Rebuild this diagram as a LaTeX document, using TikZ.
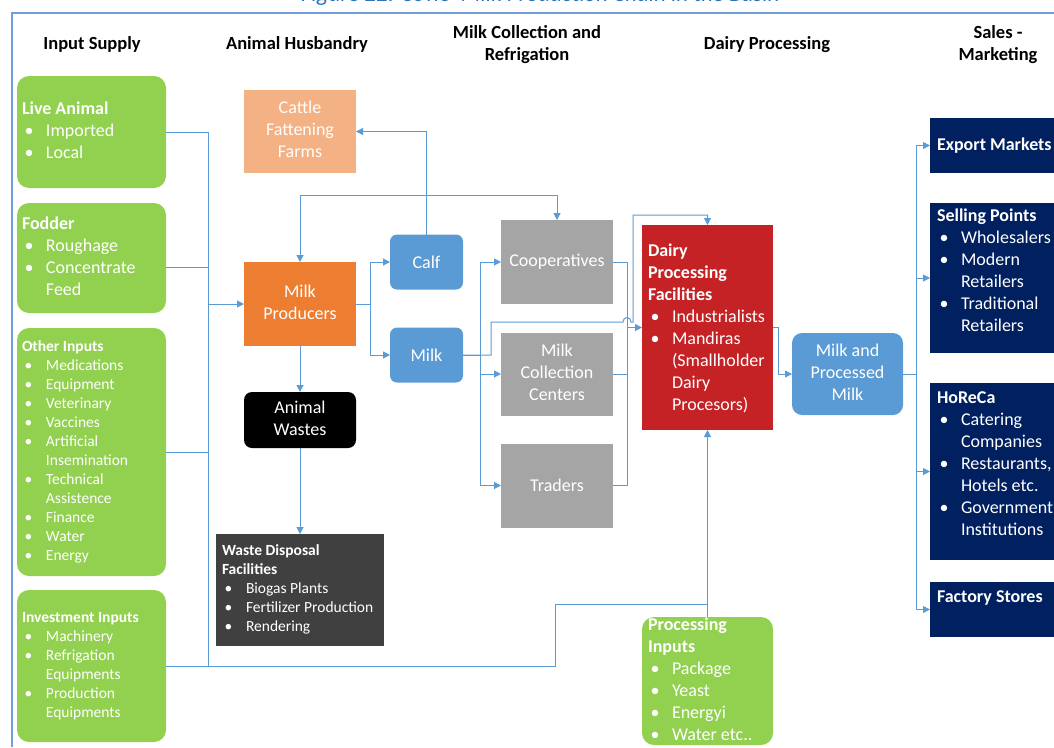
\documentclass[tikz,border=0pt]{standalone}
\usepackage{fontspec}
\setmainfont{Carlito}
\usepackage{array}
\usetikzlibrary{arrows.meta}

\definecolor{cgreen}{RGB}{146,208,80}
\definecolor{cpeach}{RGB}{244,177,131}
\definecolor{corange}{RGB}{237,125,49}
\definecolor{cblue}{RGB}{91,155,213}
\definecolor{cgray}{RGB}{165,165,165}
\definecolor{cred}{RGB}{197,34,38}
\definecolor{cnavy}{RGB}{0,32,96}
\definecolor{cdark}{RGB}{64,64,64}
\definecolor{cline}{RGB}{91,155,213}
\definecolor{cframe}{RGB}{110,160,215}
\definecolor{ccap}{RGB}{46,116,181}

\newcommand{\fbody}{\fontsize{18}{22}\selectfont}
\newcommand{\fsmall}{\fontsize{15.5}{19}\selectfont}
\newcommand{\fhead}{\fontsize{18.5}{22.5}\selectfont\bfseries}
% bullet list: bullet column + text column
\newcolumntype{L}{@{\hspace{2.5pt}}p{21.5pt}@{}l@{}}
\newcommand{\boxhead}[1]{\multicolumn{2}{@{}l@{}}{\bfseries #1}}
\newcommand{\itemdot}{\textbullet}

\begin{document}
\begin{tikzpicture}[x=1pt, y=-1pt,
  sz/.style 2 args={minimum width=#1pt, minimum height=#2pt},
  box/.style={inner sep=0pt, outer sep=0pt, text=white, font=\fbody},
  greenbox/.style={box, fill=cgreen, rounded corners=12pt},
  peachbox/.style={box, fill=cpeach},
  orangebox/.style={box, fill=corange},
  blackbox/.style={box, fill=black, rounded corners=8pt},
  darkbox/.style={box, fill=cdark},
  bluebox/.style={box, fill=cblue, rounded corners=7pt},
  graybox/.style={box, fill=cgray},
  redbox/.style={box, fill=cred},
  navybox/.style={box, fill=cnavy},
  txt/.style={inner sep=0pt, outer sep=0pt, text=white, anchor=west, font=\fbody},
  head/.style={inner sep=0pt, text=black, font=\fhead, anchor=base},
  conn/.style={draw=cline, line width=1pt},
  arr/.style={conn, -{Triangle[length=7pt,width=7pt]}}
]
\useasboundingbox (0,0) rectangle (1054,747);

% caption (running off the top edge) and frame
\node[anchor=base, inner sep=0pt, text=ccap, font=\fontsize{23}{28}\selectfont\itshape] (caption) at (540.5,1.5) {Figure 22: Cows' Milk Production Chain in the Basin};
\draw[cframe, line width=1.5pt] (12,747) -- (12,13) -- (1054,13);

% column headings
\node[head] (h1) at (92,49) {Input Supply};
\node[head] (h2) at (297,49) {Animal Husbandry};
\node[head] (h3) at (527,38) {\begin{tabular}[t]{@{}c@{}}Milk Collection and\\Refrigation\end{tabular}};
\node[head] (h4) at (767,49) {Dairy Processing};
\node[head] (h5) at (998,38) {\begin{tabular}[t]{@{}c@{}}Sales -\\Marketing\end{tabular}};

% input supply
\node[greenbox, sz={149}{112}] (live) at (91.5,132) {};
\node[txt] (live-t) at ([xshift=5pt]live.west) {\begin{tabular}{L}
  \boxhead{Live Animal}\\ \itemdot & Imported\\ \itemdot & Local\end{tabular}};
\node[greenbox, sz={149}{110}] (fodder) at (91.5,258) {};
\node[txt] (fodder-t) at ([xshift=5pt]fodder.west) {\begin{tabular}{L}
  \boxhead{Fodder}\\ \itemdot & Roughage\\ \itemdot & Concentrate\\ & Feed\end{tabular}};
\node[greenbox, sz={149}{248}] (other) at (91.5,452) {};
\node[txt, font=\fsmall] (other-t) at ([xshift=5pt]other.west) {\begin{tabular}{L}
  \boxhead{Other Inputs}\\ \itemdot & Medications\\ \itemdot & Equipment\\
  \itemdot & Veterinary\\ \itemdot & Vaccines\\ \itemdot & Artificial\\ & Insemination\\
  \itemdot & Technical\\ & Assistence\\ \itemdot & Finance\\ \itemdot & Water\\
  \itemdot & Energy\end{tabular}};
\node[greenbox, sz={149}{152}] (invest) at (91.5,666) {};
\node[txt, font=\fsmall] (invest-t) at ([xshift=5pt]invest.west) {\begin{tabular}{L}
  \boxhead{Investment Inputs}\\ \itemdot & Machinery\\ \itemdot & Refrigation\\
  & Equipments\\ \itemdot & Production\\ & Equipments\end{tabular}};

% animal husbandry
\node[peachbox, sz={112}{83}] (cattle) at (300,131.5) {\begin{tabular}{@{}c@{}}Cattle\\Fattening\\Farms\end{tabular}};
\node[orangebox, sz={112}{84}] (milkprod) at (300,304) {\begin{tabular}{@{}c@{}}Milk\\Producers\end{tabular}};
\node[blackbox, sz={112}{56}] (wastes) at (300,420) {\begin{tabular}{@{}c@{}}Animal\\Wastes\end{tabular}};
\node[darkbox, sz={168}{112}] (disposal) at (300,590) {};
\node[txt, font=\fsmall] (disposal-t) at ([xshift=6pt]disposal.west) {\begin{tabular}{L}
  \boxhead{Waste Disposal}\\ \boxhead{Facilities}\\ \itemdot & Biogas Plants\\
  \itemdot & Fertilizer Production\\ \itemdot & Rendering\end{tabular}};
\node[bluebox, sz={73}{55}] (calf) at (426.5,262) {Calf};
\node[bluebox, sz={73}{55}] (milk) at (426.5,355) {Milk};

% milk collection
\node[graybox, sz={112}{84}] (coop) at (557,262) {Cooperatives};
\node[graybox, sz={112}{83}] (mcc) at (557,374) {\begin{tabular}{@{}c@{}}Milk\\Collection\\Centers\end{tabular}};
\node[graybox, sz={112}{84}] (traders) at (557,485.5) {Traders};

% dairy processing
\node[redbox, sz={131}{205}] (dairy) at (707.5,327.5) {};
\node[txt] (dairy-t) at ([xshift=6pt,yshift=-1.5pt]dairy.west) {\begin{tabular}{L}
  \boxhead{Dairy}\\ \boxhead{Processing}\\ \boxhead{Facilities}\\
  \itemdot & Industrialists\\ \itemdot & Mandiras\\ & (Smallholder\\ & Dairy\\
  & Procesors)\end{tabular}};
\node[greenbox, sz={131}{128}] (procin) at (707.5,681) {};
\node[txt] (procin-t) at ([xshift=6pt]procin.west) {\begin{tabular}{L}
  \boxhead{Processing}\\ \boxhead{Inputs}\\ \itemdot & Package\\ \itemdot & Yeast\\
  \itemdot & Energyi\\ \itemdot & Water etc..\end{tabular}};
\node[bluebox, rounded corners=10pt, sz={111}{82}] (mpm) at (847.5,374) {\begin{tabular}{@{}c@{}}Milk and\\Processed\\Milk\end{tabular}};

% sales and marketing
\node[navybox, sz={134}{55}] (export) at (997,145.5) {};
\node[txt] (export-t) at ([xshift=7pt]export.west) {\bfseries Export Markets};
\node[navybox, sz={134}{150}] (selling) at (997,278) {};
\node[txt] (selling-t) at ([xshift=7pt,yshift=5.5pt]selling.west) {\begin{tabular}{L}
  \boxhead{Selling Points}\\ \itemdot & Wholesalers\\ \itemdot & Modern\\ & Retailers\\
  \itemdot & Traditional\\ & Retailers\end{tabular}};
\node[navybox, sz={134}{177}] (horeca) at (997,471.5) {};
\node[txt] (horeca-t) at ([xshift=7pt,yshift=6.5pt]horeca.west) {\begin{tabular}{L}
  \boxhead{HoReCa}\\ \itemdot & Catering\\ & Companies\\ \itemdot & Restaurants,\\
  & Hotels etc.\\ \itemdot & Government\\ & Institutions\end{tabular}};
\node[navybox, sz={134}{55}] (factory) at (997,609.5) {};
\node[txt] (factory-t) at ([xshift=7pt,yshift=11.5pt]factory.west) {\bfseries Factory Stores};

% input supply bus
\coordinate (s1) at (208,132);
\coordinate (s4) at (208,666);
\coordinate (s5) at (555,666);
\coordinate (s6) at (707.5,604);
\draw[conn] (live.east) -- (s1) -- (s4);
\draw[conn] ([yshift=-9pt]fodder.east) -- ++(42,0);
\draw[conn] (other.east) -- (other.east -| s1);
\draw[conn] (invest.east) -- (s5) |- (s6);
\draw[arr] (s1 |- milkprod.west) -- (milkprod.west);
\draw[arr] (procin.north) -- (dairy.south);

% husbandry flows
\coordinate (j1) at (426.5,195);
\draw[arr] (calf.north) -- (j1) |- (cattle.east);
\draw[arr] (j1) -| (milkprod.north);
\draw[arr] (j1) -| (coop.north);
\draw[arr] (milkprod.east) -- ++(14,0) |- (calf.west);
\draw[arr] (milkprod.east) -- ++(14,0) |- (milk.west);
\draw[arr] (milkprod.south) -- (wastes.north);
\draw[arr] (wastes.south) -- (disposal.north);

% milk to collectors
\draw[arr] (milk.east) -- ++(17,0) |- (coop.west);
\draw[arr] (milk.east) -- ++(17,0) |- (mcc.west);
\draw[arr] (milk.east) -- ++(17,0) |- (traders.west);

% collectors to dairy
\coordinate (c1) at (627,327.5);
\draw[conn] (coop.east) -| (c1);
\draw[conn] (traders.east) -| (c1);
\draw[conn] (mcc.east) -- (mcc.east -| c1);
\draw[arr] (c1) -- (dairy.west);

% milk straight to dairy, jumping over the collector line
\draw[arr] (milk.east) -- ++(28,0) -- ++(0,-33) -- (623,322)
  .. controls (623,316) and (631,316) .. (631,322) -- (633,322) -- (633,215) -| (dairy.north);

% dairy to market
\draw[arr] (dairy.east) -- ++(5,0) |- (mpm.west);
\coordinate (m1) at (916,374);
\draw[conn] (mpm.east) -- (m1);
\draw[arr] (m1) |- (export.west);
\draw[arr] (m1) |- (selling.west);
\draw[arr] (m1) |- (horeca.west);
\draw[arr] (m1) |- (factory.west);
\end{tikzpicture}
\end{document}
